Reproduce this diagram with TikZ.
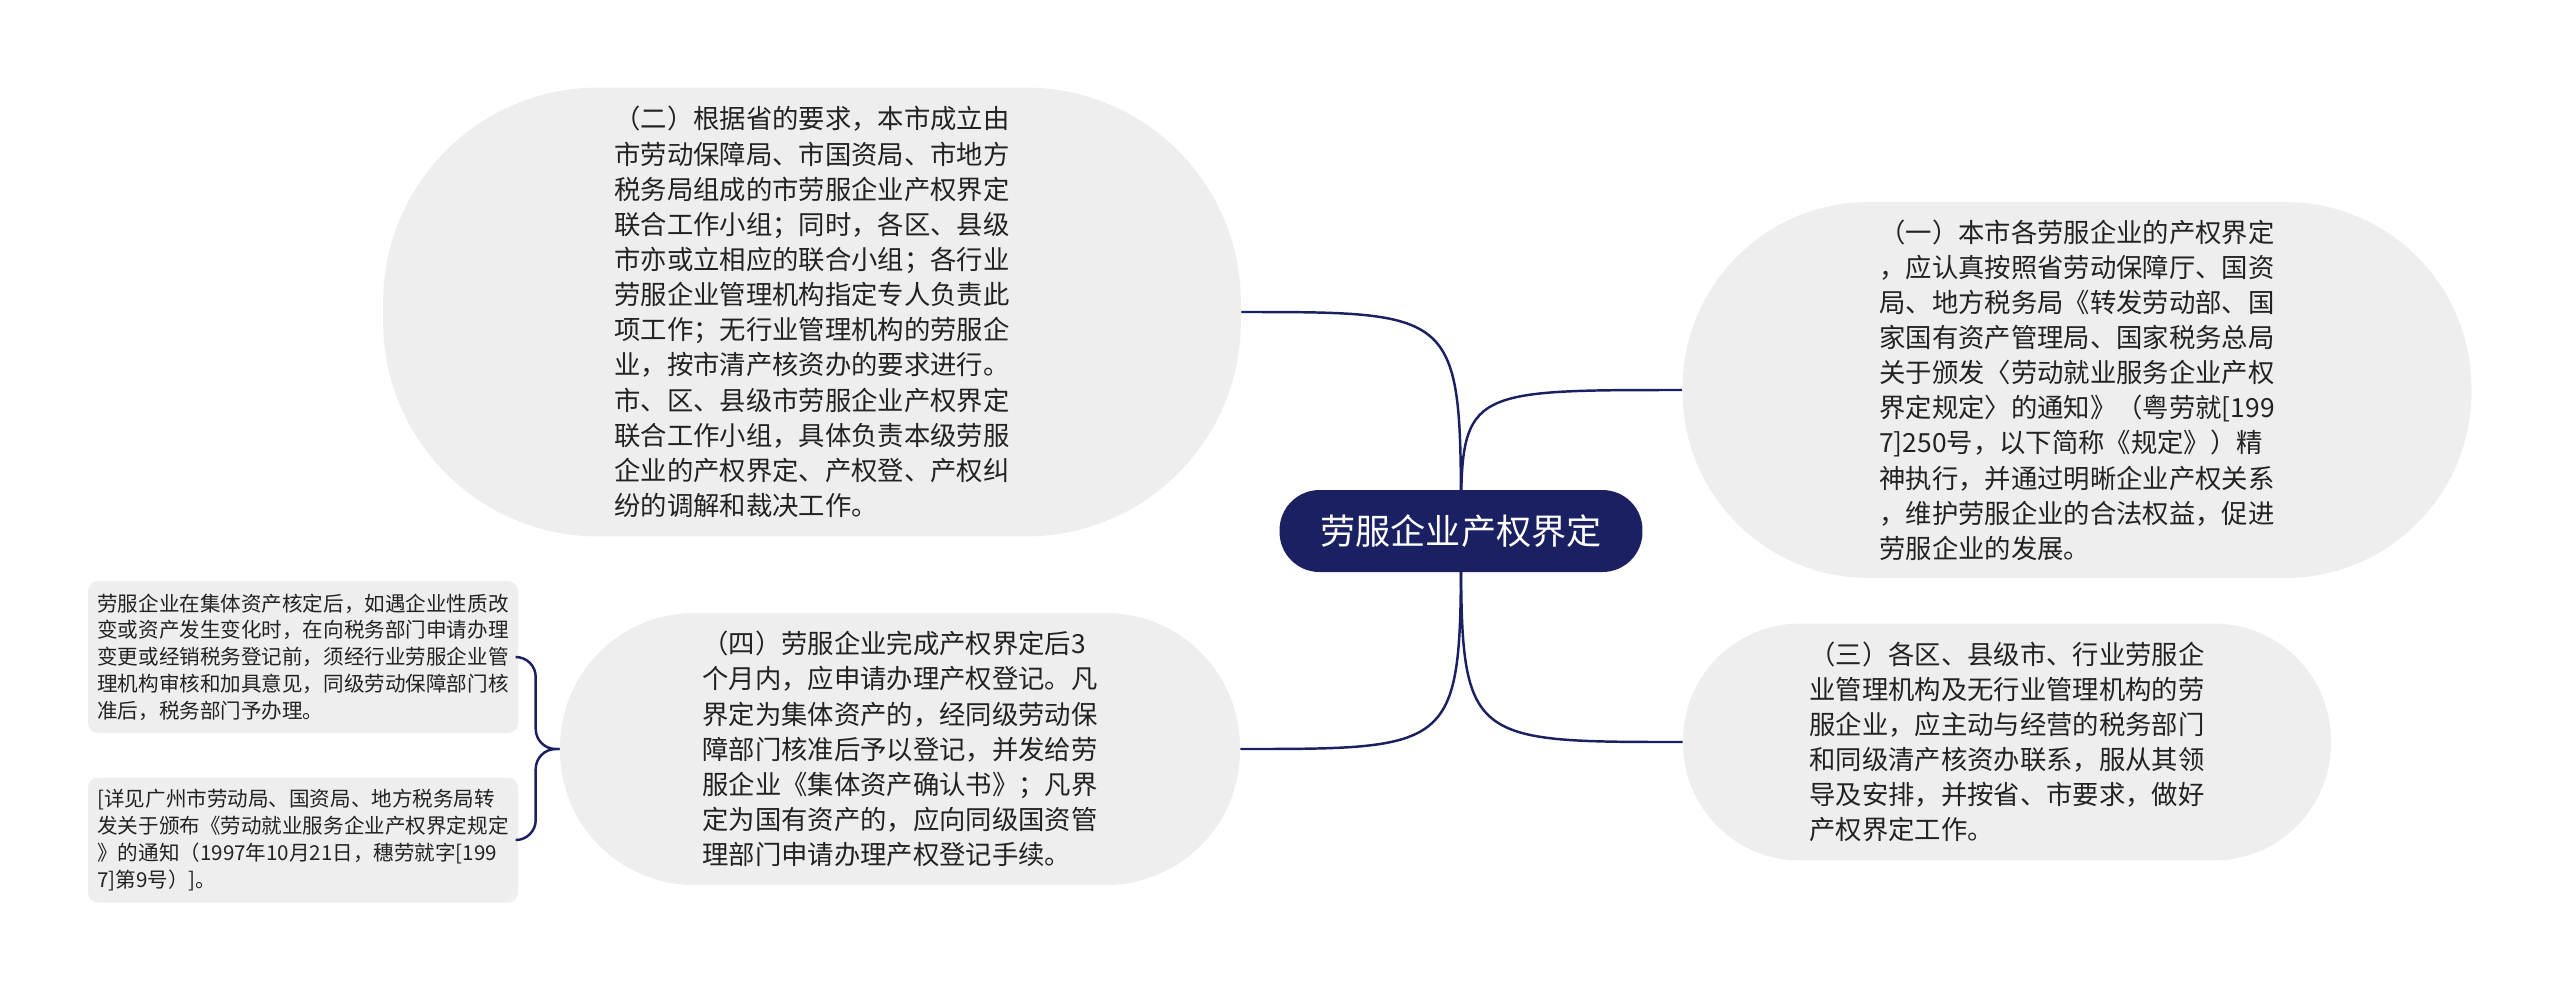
\documentclass[tikz,border=0pt]{standalone}
\usepackage{fontspec}
\setmainfont{Noto Sans CJK SC}
\usepackage{xcolor}
\usepackage{tikz}
\usetikzlibrary{positioning,calc,backgrounds}
\definecolor{rootnavy}{RGB}{27,32,99}
\definecolor{topicgray}{RGB}{238,238,238}
\definecolor{bodytext}{RGB}{34,34,34}
\tikzset{
  % 中心主题
  rootbox/.style={
    fill=rootnavy,
    text=white,
    rounded corners=0.8cm,
    minimum width=7.26cm,
    minimum height=1.64cm,
    font=\fontsize{20pt}{24pt}\selectfont
  },
  % 分支主题 (大圆角)
  topic/.style={
    fill=topicgray,
    text=bodytext,
    align=left,
    inner sep=0pt,
    font=\fontsize{15pt}{20pt}\selectfont
  },
  % 子主题
  note/.style={
    fill=topicgray,
    text=bodytext,
    align=left,
    inner sep=0pt,
    rounded corners=0.2cm,
    minimum width=8.6cm,
    font=\fontsize{11.7pt}{15.2pt}\selectfont
  },
  % 连线
  link/.style={draw=rootnavy, line width=1.4pt},
}

\begin{document}
\begin{tikzpicture}[x=0.02cm, y=-0.02cm]
    \useasboundingbox (0,0) rectangle (2560,992);

    % 中心
    \node[rootbox] (root) at (1461,531) {劳服企业产权界定};

    % 左上: (二)
    \node[topic, rounded corners=4.3cm, minimum width=17.16cm, minimum height=8.98cm] (two) at (812,312) {%
        （二）根据省的要求，本市成立由\\
        市劳动保障局、市国资局、市地方\\
        税务局组成的市劳服企业产权界定\\
        联合工作小组；同时，各区、县级\\
        市亦或立相应的联合小组；各行业\\
        劳服企业管理机构指定专人负责此\\
        项工作；无行业管理机构的劳服企\\
        业，按市清产核资办的要求进行。\\
        市、区、县级市劳服企业产权界定\\
        联合工作小组，具体负责本级劳服\\
        企业的产权界定、产权登、产权纠\\
        纷的调解和裁决工作。};

    % 右上: (一)
    \node[topic, rounded corners=3.72cm, minimum width=15.78cm, minimum height=7.52cm] (one) at (2077,390) {%
        （一）本市各劳服企业的产权界定\\
        ，应认真按照省劳动保障厅、国资\\
        局、地方税务局《转发劳动部、国\\
        家国有资产管理局、国家税务总局\\
        关于颁发〈劳动就业服务企业产权\\
        界定规定〉的通知》（粤劳就[199\\
        7]250号，以下简称《规定》）精\\
        神执行，并通过明晰企业产权关系\\
        ，维护劳服企业的合法权益，促进\\
        劳服企业的发展。};

    % 右下: (三)
    \node[topic, rounded corners=2.34cm, minimum width=12.96cm, minimum height=4.74cm] (three) at (2007,742) {%
        （三）各区、县级市、行业劳服企\\
        业管理机构及无行业管理机构的劳\\
        服企业，应主动与经营的税务部门\\
        和同级清产核资办联系，服从其领\\
        导及安排，并按省、市要求，做好\\
        产权界定工作。};

    % 左下: (四)
    \node[topic, rounded corners=2.68cm, minimum width=13.6cm, minimum height=5.44cm] (four) at (900,749) {%
        （四）劳服企业完成产权界定后3\\
        个月内，应申请办理产权登记。凡\\
        界定为集体资产的，经同级劳动保\\
        障部门核准后予以登记，并发给劳\\
        服企业《集体资产确认书》；凡界\\
        定为国有资产的，应向同级国资管\\
        理部门申请办理产权登记手续。};

    % (四) 的子主题
    \node[note, minimum height=3.04cm] (note1) at (303,657) {%
        劳服企业在集体资产核定后，如遇企业性质改\\
        变或资产发生变化时，在向税务部门申请办理\\
        变更或经销税务登记前，须经行业劳服企业管\\
        理机构审核和加具意见，同级劳动保障部门核\\
        准后，税务部门予办理。};
    \node[note, minimum height=2.5cm] (note2) at (303,840) {%
        [详见广州市劳动局、国资局、地方税务局转\\
        发关于颁布《劳动就业服务企业产权界定规定\\
        》的通知（1997年10月21日，穗劳就字[199\\
        7]第9号）]。};

    % 连线 (从中心出发, 压在节点下面)
    \begin{scope}[on background layer]
        \draw[link] (root.center) .. controls (root.center |- two.east) .. (two.east);
        \draw[link] (root.center) .. controls (root.center |- one.west) .. (one.west);
        \draw[link] (root.center) .. controls (root.center |- four.east) .. (four.east);
        \draw[link] (root.center) .. controls (root.center |- three.west) .. (three.west);
    \end{scope}
    \draw[link, rounded corners=0.4cm] (four.west) -- ++(-24,0) |- (note1.east);
    \draw[link, rounded corners=0.4cm] (four.west) -- ++(-24,0) |- (note2.east);
\end{tikzpicture}
\end{document}
